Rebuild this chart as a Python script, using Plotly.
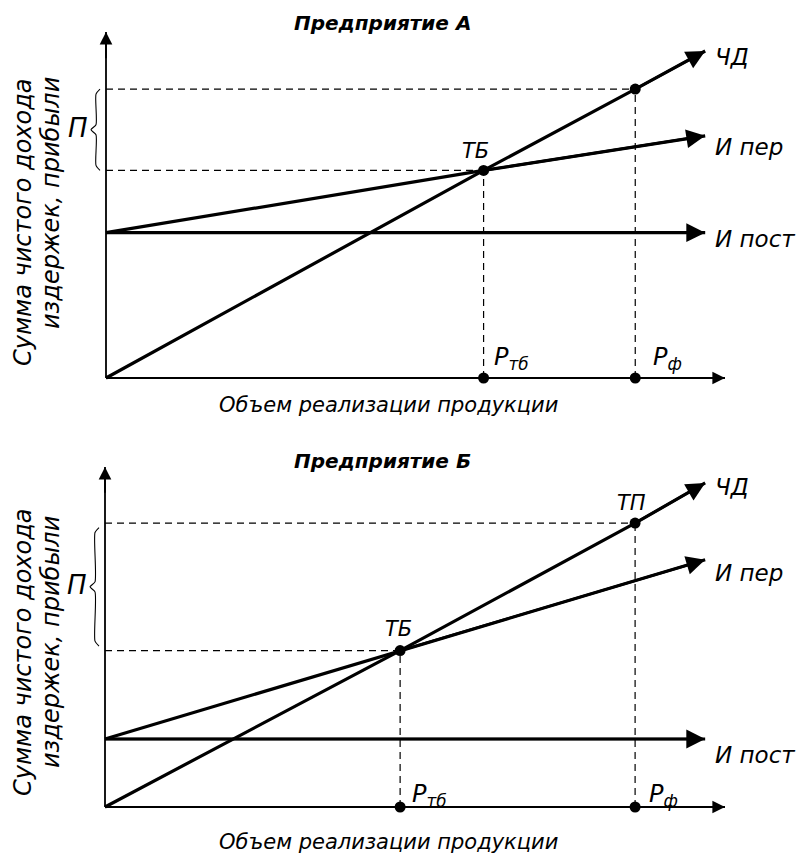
import plotly.graph_objects as go

W, H = 801, 855

# ---------------- data: Предприятие А ----------------
A_CHD_X = [0.0, 6.1, 8.55, 9.68]     # ЧД (чистый доход)
A_CHD_Y = [0.0, 6.0, 8.35, 9.45]
A_VAR_X = [0.0, 6.1, 9.68]           # И пер
A_VAR_Y = [4.2, 6.0, 7.0]
A_FIX_X = [0.0, 9.68]                # И пост
A_FIX_Y = [4.2, 4.2]
A_P_TB = 6.1                         # Р тб
A_P_F = 8.55                         # Р ф
A_Y_TB = 6.0                         # ТБ level
A_Y_TP = 8.35                        # ТП level
A_AXIS_END = [10.0, 10.0]

# ---------------- data: Предприятие Б ----------------
B_CHD_X = [0.0, 4.76, 8.55, 9.68]
B_CHD_Y = [0.0, 4.6, 8.35, 9.53]
B_VAR_X = [0.0, 4.76, 9.68]
B_VAR_Y = [2.0, 4.6, 7.27]
B_FIX_X = [0.0, 9.68]
B_FIX_Y = [2.0, 2.0]
B_P_TB = 4.76
B_P_F = 8.55
B_Y_TB = 4.6
B_Y_TP = 8.35
B_AXIS_END = [10.0, 10.0]

TITLES = ["Предприятие А", "Предприятие Б"]
X_LABEL = "Объем реализации продукции"
Y_LABEL = ["Сумма чистого дохода", "издержек, прибыли"]
LINE_LABELS = ["ЧД", "И пер", "И пост"]

FONT = "DejaVu Sans, Liberation Sans, sans-serif"

# pixel calibration of each panel (origin, px per unit)
PANELS = [
    dict(ox=106, oy=378, kx=61.9, ky=34.6, top=0, bottom=420, xa="x", ya="y",
         chd=(A_CHD_X, A_CHD_Y), var=(A_VAR_X, A_VAR_Y), fix=(A_FIX_X, A_FIX_Y),
         ptb=A_P_TB, pf=A_P_F, ytb=A_Y_TB, ytp=A_Y_TP, axend=A_AXIS_END,
         title=TITLES[0], title_py=23, xlabel_py=405, ylab_py=(222, 203),
         lab_shift=(-6, -11, -6), tp_label=False, ptb_dx=8, pf_dx=16, ptxt_dy=20,
         tb_dx=-8, tb_dy=5, brace_inset=0.0),
    dict(ox=105, oy=807, kx=62.0, ky=34.0, top=420, bottom=855, xa="x2", ya="y2",
         chd=(B_CHD_X, B_CHD_Y), var=(B_VAR_X, B_VAR_Y), fix=(B_FIX_X, B_FIX_Y),
         ptb=B_P_TB, pf=B_P_F, ytb=B_Y_TB, ytp=B_Y_TP, axend=B_AXIS_END,
         title=TITLES[1], title_py=461, xlabel_py=842, ylab_py=(652, 642),
         lab_shift=(-4, -13, -16), tp_label=True, ptb_dx=10, pf_dx=12, ptxt_dy=12,
         tb_dx=-2, tb_dy=8, brace_inset=0.13),
]

fig = go.Figure()
annotations = []
layout_axes = {}


def paper(px, py):
    return px / W, 1 - py / H


for i, p in enumerate(PANELS):
    xa, ya = p["xa"], p["ya"]
    xname = "xaxis" if xa == "x" else "xaxis" + xa[1:]
    yname = "yaxis" if ya == "y" else "yaxis" + ya[1:]
    layout_axes[xname] = dict(range=[-p["ox"] / p["kx"], (W - p["ox"]) / p["kx"]],
                              domain=[0, 1], anchor=ya, visible=False, fixedrange=True)
    layout_axes[yname] = dict(range=[(p["oy"] - p["bottom"]) / p["ky"], (p["oy"] - p["top"]) / p["ky"]],
                              domain=[1 - p["bottom"] / H, 1 - p["top"] / H], anchor=xa,
                              visible=False, fixedrange=True)

    def line(x, y, width, dash="solid"):
        fig.add_trace(go.Scatter(x=x, y=y, mode="lines", xaxis=xa, yaxis=ya,
                                 line=dict(color="black", width=width, dash=dash),
                                 hoverinfo="skip", showlegend=False, cliponaxis=False))

    def arrow(x0, y0, x1, y1, width, size):
        annotations.append(dict(x=x1, y=y1, ax=x0, ay=y0, xref=xa, yref=ya, axref=xa, ayref=ya,
                                showarrow=True, arrowhead=2, arrowwidth=width, arrowsize=size,
                                arrowcolor="black", text="", standoff=0, startstandoff=0))

    dash = "7px,5px"
    # dashed guide lines
    line([0, p["ptb"]], [p["ytb"], p["ytb"]], 1.2, dash)
    line([p["ptb"], p["ptb"]], [0, p["ytb"]], 1.2, dash)
    line([0, p["pf"]], [p["ytp"], p["ytp"]], 1.2, dash)
    line([p["pf"], p["pf"]], [0, p["ytp"]], 1.2, dash)

    # axes
    xend, yend = p["axend"]
    line([0, xend], [0, 0], 1.8)
    line([0, 0], [0, yend], 1.8)
    arrow(xend - 0.5, 0, xend, 0, 1.8, 1.4)
    arrow(0, yend - 0.8, 0, yend, 1.8, 1.4)

    # main lines with arrowheads
    for (lx, ly) in (p["fix"], p["var"], p["chd"]):
        line(lx, ly, 3.2)
        arrow(lx[-2], ly[-2], lx[-1], ly[-1], 2.6, 1.45)

    # dots
    fig.add_trace(go.Scatter(x=[p["ptb"], p["pf"], p["ptb"], p["pf"]],
                             y=[0, 0, p["ytb"], p["ytp"]], mode="markers",
                             xaxis=xa, yaxis=ya, marker=dict(color="black", size=11),
                             hoverinfo="skip", showlegend=False, cliponaxis=False))

    # brace for П
    kx, ky = p["kx"], p["ky"]
    yt = p["ytp"] - p["brace_inset"]
    yb = p["ytb"] + p["brace_inset"]
    ym = (yt + yb) / 2
    c = 5 / ky
    bx = [-6 / kx, -10 / kx, -10 / kx, -15 / kx, -10 / kx, -10 / kx, -6 / kx]
    by = [yt, yt - c, ym + c, ym, ym - c, yb + c, yb]
    fig.add_trace(go.Scatter(x=bx, y=by, mode="lines", xaxis=xa, yaxis=ya,
                             line=dict(color="black", width=1.1, shape="spline", smoothing=0.6),
                             hoverinfo="skip", showlegend=False, cliponaxis=False))
    annotations.append(dict(x=-15 / kx, y=ym, xref=xa, yref=ya, text="П", showarrow=False,
                            xanchor="right", yanchor="middle", xshift=-1, yshift=2,
                            font=dict(family=FONT, size=26, style="italic", color="black")))

    lfont = dict(family=FONT, size=23, style="italic", color="black")
    tfont = dict(family=FONT, size=21, style="italic", color="black")
    pfont = dict(family=FONT, size=24, style="italic", color="black")
    # line labels
    for (lx, ly), lab, dy in zip((p["chd"], p["var"], p["fix"]), LINE_LABELS, p["lab_shift"]):
        annotations.append(dict(x=lx[-1], y=ly[-1], xref=xa, yref=ya, text=lab, showarrow=False,
                                xanchor="left", yanchor="middle", xshift=8, yshift=dy, font=lfont))
    # ТБ / ТП
    annotations.append(dict(x=p["ptb"], y=p["ytb"], xref=xa, yref=ya, text="ТБ", showarrow=False,
                            xanchor="center", yanchor="bottom", xshift=p["tb_dx"], yshift=p["tb_dy"],
                            font=tfont))
    if p["tp_label"]:
        annotations.append(dict(x=p["pf"], y=p["ytp"], xref=xa, yref=ya, text="ТП", showarrow=False,
                                xanchor="center", yanchor="bottom", xshift=-4, yshift=6, font=tfont))
    # P labels on x axis
    annotations.append(dict(x=p["ptb"], y=0, xref=xa, yref=ya, text="P<sub>тб</sub>", showarrow=False,
                            xanchor="left", yanchor="middle", xshift=p["ptb_dx"], yshift=p["ptxt_dy"],
                            font=pfont))
    annotations.append(dict(x=p["pf"], y=0, xref=xa, yref=ya, text="P<sub>ф</sub>", showarrow=False,
                            xanchor="left", yanchor="middle", xshift=p["pf_dx"], yshift=p["ptxt_dy"],
                            font=pfont))

    # title
    tx, ty = paper(382, p["title_py"])
    annotations.append(dict(x=tx, y=ty, xref="paper", yref="paper", text=p["title"], showarrow=False,
                            xanchor="center", yanchor="middle",
                            font=dict(family=FONT, size=20, style="italic", weight="bold", color="black")))
    # x label
    lx_, ly_ = paper(388, p["xlabel_py"])
    annotations.append(dict(x=lx_, y=ly_, xref="paper", yref="paper", text=X_LABEL, showarrow=False,
                            xanchor="center", yanchor="middle",
                            font=dict(family=FONT, size=21, style="italic", color="black")))
    # y label (two lines)
    for j, (txt, cx) in enumerate(zip(Y_LABEL, (23, 51))):
        px_, py_ = paper(cx, p["ylab_py"][j])
        annotations.append(dict(x=px_, y=py_, xref="paper", yref="paper", text=txt, showarrow=False,
                                textangle=-90, xanchor="center", yanchor="middle",
                                font=dict(family=FONT, size=24, style="italic", color="black")))

fig.update_layout(width=W, height=H, autosize=False,
                  margin=dict(l=0, r=0, t=0, b=0, pad=0),
                  paper_bgcolor="white", plot_bgcolor="white",
                  showlegend=False, annotations=annotations, **layout_axes)

fig.write_html("out.html", config={"displayModeBar": False},
               post_script="document.body.style.margin='0';document.body.style.padding='0';")
